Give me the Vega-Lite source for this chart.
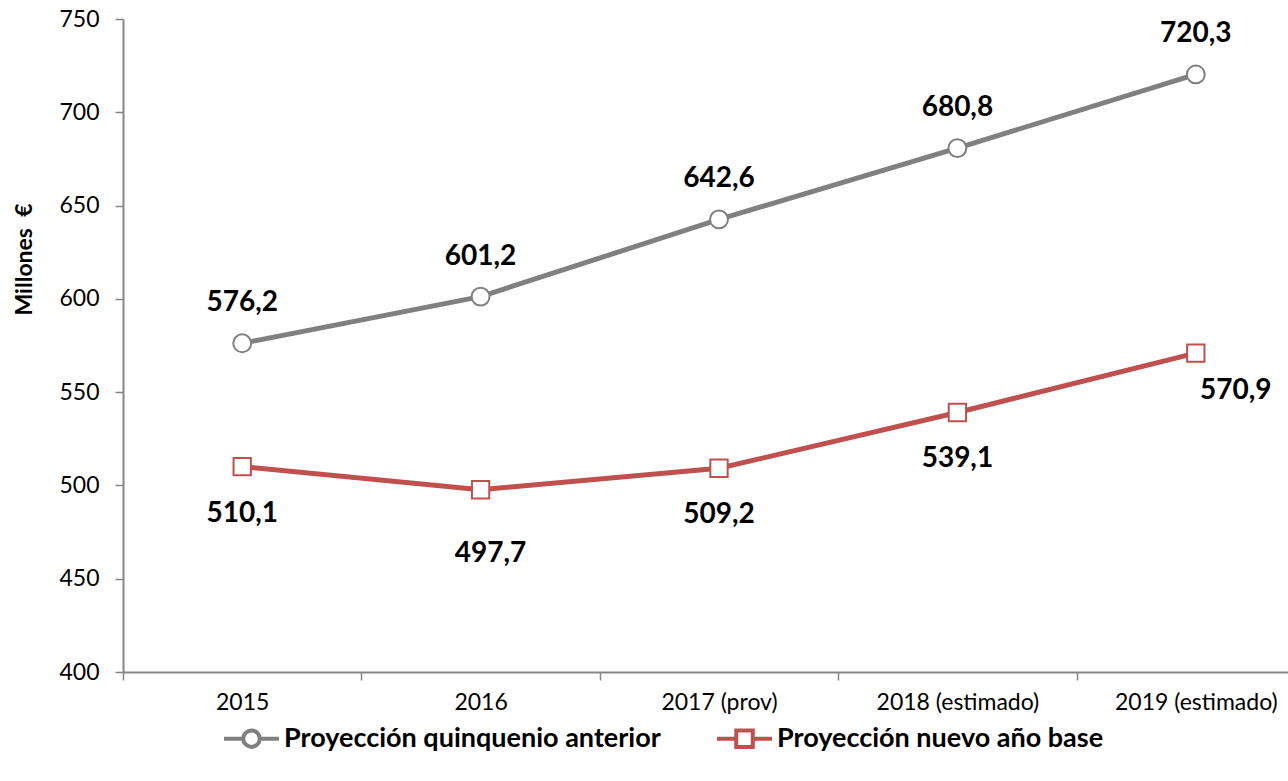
{
  "$schema": "https://vega.github.io/schema/vega-lite/v6.json",
  "width": 1165,
  "height": 653,
  "autosize": {"type": "none"},
  "padding": {"left": 123, "top": 19, "right": 0, "bottom": 109},
  "background": "white",
  "config": {
    "view": {"stroke": null},
    "font": "Lato",
    "locale": {"number": {"decimal": ",", "thousands": ".", "grouping": [3], "currency": ["", " €"]}}
  },
  "data": {
    "values": [
      {"year": "2015", "serie": "Proyección quinquenio anterior", "value": 576.2},
      {"year": "2016", "serie": "Proyección quinquenio anterior", "value": 601.2},
      {"year": "2017 (prov)", "serie": "Proyección quinquenio anterior", "value": 642.6},
      {"year": "2018 (estimado)", "serie": "Proyección quinquenio anterior", "value": 680.8},
      {"year": "2019 (estimado)", "serie": "Proyección quinquenio anterior", "value": 720.3},
      {"year": "2015", "serie": "Proyección nuevo año base", "value": 510.1},
      {"year": "2016", "serie": "Proyección nuevo año base", "value": 497.7},
      {"year": "2017 (prov)", "serie": "Proyección nuevo año base", "value": 509.2},
      {"year": "2018 (estimado)", "serie": "Proyección nuevo año base", "value": 539.1},
      {"year": "2019 (estimado)", "serie": "Proyección nuevo año base", "value": 570.9}
    ]
  },
  "encoding": {
    "x": {
      "field": "year", "type": "nominal", "bandPosition": 0.5,
      "sort": ["2015", "2016", "2017 (prov)", "2018 (estimado)", "2019 (estimado)"],
      "scale": {"type": "band", "range": [0, 1192], "paddingInner": 0, "paddingOuter": 0},
      "axis": {
        "title": null, "labelAngle": 0, "tickBand": "extent", "tickSize": 8,
        "labelPadding": 11, "labelFontSize": 23, "labelColor": "#000000", "labelFont": "Lato",
        "domainColor": "#868686", "domainWidth": 2, "tickColor": "#868686", "tickWidth": 1.5,
        "grid": false
      }
    },
    "y": {
      "field": "value", "type": "quantitative",
      "scale": {"domain": [400, 750], "nice": false, "zero": false},
      "axis": {
        "values": [400, 450, 500, 550, 600, 650, 700, 750],
        "title": "Millones\u00a0\u00a0€", "titleFontSize": 23, "titleFontWeight": "bold", "titleColor": "#000000",
        "titleFont": "Lato", "titleX": -99, "titleY": 240, "titleAngle": -90, "titleBaseline": "middle",
        "labelFontSize": 23, "labelColor": "#000000", "labelPadding": 16, "labelFont": "Lato",
        "tickSize": 8, "grid": false,
        "domainColor": "#868686", "domainWidth": 2, "tickColor": "#868686", "tickWidth": 1.5
      }
    }
  },
  "layer": [
    {
      "mark": {"type": "line", "strokeWidth": 5},
      "encoding": {
        "color": {
          "field": "serie", "type": "nominal",
          "scale": {"domain": ["Proyección quinquenio anterior", "Proyección nuevo año base"], "range": ["#808080", "#C0504D"]},
          "legend": {
            "title": null, "orient": "none", "legendX": 99, "legendY": 690, "direction": "horizontal",
            "symbolSize": 3025, "symbolStrokeWidth": 4, "labelFontSize": 27, "labelFontWeight": "bold",
            "labelColor": "#000000", "labelFont": "Lato", "labelOffset": 3, "columnPadding": 48, "labelLimit": 600,
            "encode": {
              "symbols": {
                "update": {
                  "shape": {"signal": "datum.value == 'Proyección quinquenio anterior' ? 'M-1,0H-0.3M0.3,0H1M-0.3,0A0.3,0.3,0,1,1,0.3,0A0.3,0.3,0,1,1,-0.3,0Z' : 'M-1,0H-0.3M0.3,0H1M-0.3,-0.3H0.3V0.3H-0.3Z'"},
                  "fill": {"value": "white"},
                  "strokeWidth": {"value": 4}
                }
              }
            }
          }
        }
      }
    },
    {
      "transform": [{"filter": "datum.serie == 'Proyección quinquenio anterior'"}],
      "mark": {"type": "point", "shape": "circle", "filled": false, "fill": "white", "stroke": "#808080", "strokeWidth": 2, "opacity": 1, "size": 320}
    },
    {
      "transform": [{"filter": "datum.serie == 'Proyección nuevo año base'"}],
      "mark": {"type": "point", "shape": "square", "filled": false, "fill": "white", "stroke": "#C0504D", "strokeWidth": 2, "opacity": 1, "size": 300}
    },
    {
      "transform": [{"filter": "datum.serie == 'Proyección quinquenio anterior'"}],
      "mark": {"type": "text", "dy": -40, "fontSize": 28, "fontWeight": "bold", "color": "#000000", "font": "Lato"},
      "encoding": {"text": {"field": "value", "type": "quantitative", "format": ".1f"}}
    },
    {
      "transform": [{"filter": "datum.serie == 'Proyección nuevo año base' && datum.year != '2016' && datum.year != '2019 (estimado)'"}],
      "mark": {"type": "text", "dy": 47, "fontSize": 28, "fontWeight": "bold", "color": "#000000", "font": "Lato"},
      "encoding": {"text": {"field": "value", "type": "quantitative", "format": ".1f"}}
    },
    {
      "transform": [{"filter": "datum.serie == 'Proyección nuevo año base' && datum.year == '2016'"}],
      "mark": {"type": "text", "dy": 64, "dx": 10, "fontSize": 28, "fontWeight": "bold", "color": "#000000", "font": "Lato"},
      "encoding": {"text": {"field": "value", "type": "quantitative", "format": ".1f"}}
    },
    {
      "transform": [{"filter": "datum.serie == 'Proyección nuevo año base' && datum.year == '2019 (estimado)'"}],
      "mark": {"type": "text", "dy": 38, "dx": 40, "fontSize": 28, "fontWeight": "bold", "color": "#000000", "font": "Lato"},
      "encoding": {"text": {"field": "value", "type": "quantitative", "format": ".1f"}}
    }
  ]
}
